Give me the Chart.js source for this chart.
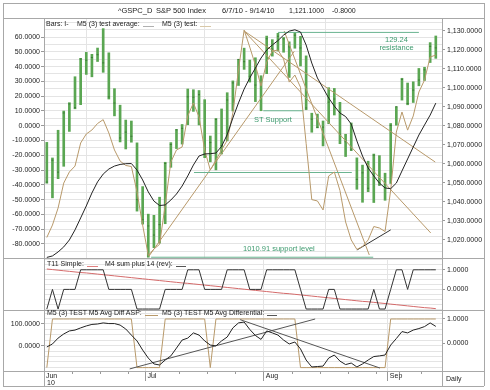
<!DOCTYPE html>
<html><head><meta charset="utf-8">
<script src="https://cdn.jsdelivr.net/npm/chart.js@4.4.1/dist/chart.umd.min.js"></script>
<style>
html,body{margin:0;padding:0;background:#fff;}
#wrap{position:relative;width:490px;height:390px;overflow:hidden;font-family:"Liberation Sans",Arial,Helvetica,sans-serif;}
canvas{position:absolute;left:0;top:0;}
.t{position:absolute;font-size:7px;line-height:8px;color:#222;white-space:nowrap;}
.g{color:#3d9a6e;font-size:7.5px;}
.h{position:absolute;height:0;border-top:1px solid #a8a8a8;}
.v{position:absolute;width:0;border-left:1px solid #a8a8a8;}
.sw{display:inline-block;height:0;vertical-align:bottom;margin-left:3px;margin-bottom:1px;}
</style></head>
<body><div id="wrap">
<canvas id="c1" width="490" height="390"></canvas>
<canvas id="c2" width="490" height="390"></canvas>
<canvas id="c3" width="490" height="390"></canvas>

<div class="v" style="left:3px;top:3px;height:383px"></div>
<div class="v" style="left:484px;top:3px;height:383px"></div>
<div class="h" style="left:3px;top:3px;width:481px"></div>
<div class="h" style="left:3px;top:386px;width:481px"></div>
<div class="h" style="left:3px;top:18px;width:481px"></div>
<div class="h" style="left:3px;top:258px;width:481px"></div>
<div class="h" style="left:3px;top:310px;width:481px"></div>
<div class="h" style="left:3px;top:371px;width:481px"></div>
<div class="v" style="left:44px;top:18px;height:368px"></div>
<div class="v" style="left:442px;top:18px;height:368px"></div>

<div class="t" style="left:118px;top:7px;font-size:7.5px">^GSPC_D</div>
<div class="t" style="left:156px;top:7px;font-size:7.5px">S&amp;P 500 Index</div>
<div class="t" style="left:222px;top:7px;font-size:7.5px">6/7/10 - 9/14/10</div>
<div class="t" style="left:289px;top:7px;font-size:7px">1,121.1000</div>
<div class="t" style="left:332px;top:7px;font-size:7px">-0.8000</div>

<div class="t" style="left:46px;top:20px">Bars: I-</div>
<div class="t" style="left:77px;top:20px">M5 (3) test average:<span class="sw" style="width:11px;border-top:1px solid #b0b0b0"></span></div>
<div class="t" style="left:162px;top:20px">M5 (3) test:<span class="sw" style="width:11px;border-top:1px solid #d8c8a8"></span></div>

<div class="t" style="left:47px;top:260px">T11 Simple:<span class="sw" style="width:11px;border-top:1px solid #e08080"></span></div>
<div class="t" style="left:105px;top:260px">M4 sum plus 14 (rev):<span class="sw" style="width:10px;border-top:1px solid #555"></span></div>

<div class="t" style="left:47px;top:309px">M5 (3) TEST M5 Avg Diff ASP:<span class="sw" style="width:13px;border-top:1px solid #b8996a"></span></div>
<div class="t" style="left:162px;top:309px">M5 (3) TEST M5 Avg Differential:<span class="sw" style="width:10px;border-top:1px solid #555"></span></div>

<div class="t g" style="left:254px;top:116px">ST Support</div>
<div class="t g" style="left:379px;top:36px;width:35px;text-align:center;line-height:7.6px">129.24<br>resistance</div>
<div class="t g" style="left:243px;top:245px">1010.91 support level</div>

<div class="t" style="left:47px;top:379px">10</div>
<div class="t" style="left:446px;top:375px">Daily</div>
</div>
<script>
// ---------- data ----------
const days = ['6/7','6/8','6/9','6/10','6/11','6/14','6/15','6/16','6/17','6/18',
 '6/21','6/22','6/23','6/24','6/25','6/28','6/29','6/30','7/1','7/2',
 '7/6','7/7','7/8','7/9','7/12','7/13','7/14','7/15','7/16','7/19',
 '7/20','7/21','7/22','7/23','7/26','7/27','7/28','7/29','7/30','8/2',
 '8/3','8/4','8/5','8/6','8/9','8/10','8/11','8/12','8/13','8/16',
 '8/17','8/18','8/19','8/20','8/23','8/24','8/25','8/26','8/27','8/30',
 '8/31','9/1','9/2','9/3','9/7','9/8','9/9','9/10','9/13','9/14'];
const highs = [1071.36,1063.15,1077.74,1087.85,1092.25,1105.91,1115.59,1118.74,1117.72,1121.01,
 1131.23,1118.50,1099.64,1090.93,1083.11,1082.60,1071.10,1048.08,1033.58,1032.95,
 1042.50,1060.89,1071.25,1078.16,1080.78,1099.46,1099.08,1098.66,1093.85,1074.70,
 1083.94,1088.96,1097.50,1103.73,1115.01,1120.95,1114.66,1115.90,1106.44,1127.30,
 1125.44,1128.75,1126.56,1124.27,1129.24,1127.16,1116.89,1086.72,1086.25,1082.62,
 1100.14,1099.77,1092.44,1075.63,1081.58,1063.20,1059.38,1061.45,1065.21,1064.40,
 1055.14,1081.30,1090.10,1105.10,1102.60,1103.26,1110.27,1110.88,1123.87,1127.36];
const lows = [1049.86,1042.17,1052.25,1058.77,1077.12,1089.03,1091.21,1107.13,1105.87,1113.93,
 1108.24,1094.18,1085.31,1071.60,1067.89,1071.45,1035.18,1028.33,1010.91,1015.93,
 1018.35,1028.54,1058.24,1068.10,1070.45,1080.65,1087.68,1080.53,1063.32,1061.11,
 1056.88,1065.25,1072.14,1087.88,1101.30,1109.78,1103.11,1092.82,1088.01,1107.53,
 1116.76,1119.46,1118.81,1105.53,1120.91,1111.58,1088.55,1076.69,1079.00,1069.49,
 1081.16,1085.76,1070.66,1063.91,1067.08,1046.68,1039.83,1045.40,1039.70,1048.79,
 1040.88,1049.72,1080.39,1093.61,1091.15,1092.36,1101.15,1103.92,1113.38,1115.58];
const closes = [1050.47,1062.00,1055.69,1086.84,1091.60,1089.63,1115.23,1114.61,1116.04,1117.51,
 1113.20,1095.31,1092.04,1073.69,1076.76,1074.57,1041.24,1030.71,1027.37,1022.58,
 1028.06,1060.27,1070.25,1077.96,1078.75,1095.34,1095.17,1096.48,1064.88,1071.25,
 1083.48,1069.59,1093.67,1102.66,1115.01,1113.84,1106.13,1101.53,1101.60,1125.86,
 1120.46,1127.24,1125.81,1121.64,1127.79,1121.06,1089.47,1083.61,1079.25,1079.38,
 1092.54,1094.16,1075.63,1071.69,1067.36,1051.87,1055.33,1047.22,1064.59,1048.92,
 1049.33,1080.29,1090.10,1104.51,1091.84,1098.87,1104.18,1109.55,1121.90,1121.10];
// M5 (3) test (tan, left axis)
const m5Test = [-75.6,-67.2,-55.7,-38.8,-31.3,-27.3,-11.7,-5.6,-2.9,1.5,
 4.1,-4.9,-16.4,-23.9,-26.9,-27.6,-44.8,-67.2,-87.8,-83.4,
 -80.3,-53.6,-24.6,-16.4,-14.4,6.6,15.4,5.9,-16.4,-30.0,
 -23.2,-16.4,-9.9,8.6,37.7,64.7,53.2,41.0,26.8,43.0,
 50.5,51.2,45.1,29.5,34.3,26.0,-12.0,-50.0,-50.9,-57.0,
 -34.0,-31.3,-43.9,-65.1,-77.3,-83.7,-81.7,-77.3,-68.2,-69.2,
 -71.6,-43.5,-4.3,9.3,-3.0,6.6,22.8,30.9,46.5,47.8];
// M5 (3) test average (black, left axis)
const m5Avg = [-89.1,-88.1,-85.4,-82.0,-77.3,-70.5,-62.4,-54.3,-45.5,-38.0,
 -32.7,-29.3,-27.3,-26.2,-25.7,-25.6,-30.0,-36.7,-44.8,-51.0,
 -54.0,-53.6,-50.3,-46.2,-40.8,-34.0,-26.6,-20.5,-19.1,-18.9,
 -18.5,-14.0,-6.0,5.2,15.4,24.8,32.3,39.0,45.8,51.2,
 54.6,57.6,61.3,64.0,64.9,63.4,54.6,42.4,32.3,25.5,
 18.7,13.3,8.6,6.2,1.1,-10.3,-20.5,-28.6,-34.0,-38.8,
 -42.1,-42.6,-38.8,-30.6,-22.5,-14.4,-6.3,0.5,7.2,15.3];
// T11 Simple (red) and M4 sum plus 14 (rev) (black steps)
const t11 = [1.04,1.01,0.98,0.95,0.92,0.89,0.86,0.84,0.81,0.78,
 0.75,0.72,0.69,0.66,0.63,0.60,0.57,0.54,0.51,0.48,
 0.45,0.42,0.39,0.36,0.33,0.31,0.28,0.25,0.22,0.19,
 0.16,0.13,0.10,0.07,0.04,0.01,-0.02,-0.05,-0.08,-0.11,
 -0.14,-0.17,-0.20,-0.22,-0.25,-0.28,-0.31,-0.34,-0.37,-0.40,
 -0.43,-0.46,-0.49,-0.52,-0.55,-0.58,-0.61,-0.63,-0.66,-0.69,
 -0.72,-0.75,-0.78,-0.81,-0.84,-0.87,-0.90,-0.93,-0.95,-0.98];
const m4 = [-1,0,-1,0,0,0,1,1,1,1,
 1,0,0,0,0,0,-1,-1,-1,-1,
 -1,0,0,0,0,1,1,1,0,0,
 0,0,1,1,1,1,0,0,0,1,
 1,1,1,1,1,0,-1,-1,-1,-1,
 0,0,-1,-1,-1,-1,-1,-1,0,-1,
 -1,0,1,1,0,1,1,1,1,1];
// M5 (3) TEST M5 Avg Diff ASP (tan steps, right axis) and Avg Differential (black, left axis)
const diffAsp = [-1,1,1,1,1,1,1,1,1,1,
 1,1,1,1,1,1,-1,-1,-1,-1,
 -1,1,1,1,1,1,1,1,1,-1,
 1,1,1,1,1,1,1,1,1,1,
 1,1,1,1,1,-1,-1,-1,-1,-1,
 -1,-1,-1,-1,-1,-1,-1,-1,-1,-1,
 -1,1,1,1,1,1,1,1,1,1];
const diffAvg = [-6,8,35,54,68,72,82,91,98,100,
 105,102,102,95,77,49,22,-20,-57,-84,
 -89,-66,-47,-11,26,35,59,49,22,3,
 -1,22,40,82,105,109,75,47,29,68,
 59,49,26,8,17,-15,-66,-98,-96,-94,
 -57,-43,-71,-87,-80,-98,-84,-66,-50,-47,
 -43,3,33,65,59,72,79,88,105,89];
// hand-drawn study lines: [x0,y0,x1,y1] in (trading-day index, value)
const priceTrendLines = [
 [18.1,1011.4,43.9,1119.3],
 [35.0,1130.0,68.9,1061.0],
 [35.0,1130.0,68.1,1023.7],
 [42.1,1130.0,57.2,1012.1]];
const lowTrendLine = [55.0,1014.7,61.0,1025.3];
const greenLevels = [[41.0,66.0,1129.24],[38.4,45.5,1088.0],[26.1,54.1,1055.5],[18.5,57.9,1010.91]];
const diffTrendLines = [[14.7,-107,47.6,123],[34.3,120,59.1,-103]];
const monthLabels = ['Jun','Jul','Aug','Sep'];
const monthStart = [0,18,39,61];
const weekStart = [5,10,15,19,24,29,34,44,49,54,59,63,67];
const mainLeftTicks = [60,50,40,30,20,10,0,-10,-20,-30,-40,-50,-60,-70,-80];
const mainRightTicks = [1130,1120,1110,1100,1090,1080,1070,1060,1050,1040,1030,1020];
const p2Ticks = [1,0];
const p3LeftTicks = [100,0];
const p3RightTicks = [1,0];

// ---------- styling ----------
const TAN = '#b8996a', BLK = '#222', GRN = '#5aa652', LGRN = '#6ab490', GRID = '#e4e4e4', AX = '#999';
const FONT = {family:'"Liberation Sans", Arial, sans-serif', size:7};
const X_MIN = -0.5, X_MAX = 70.1;
Chart.defaults.font = FONT;
Chart.defaults.color = '#222';
Chart.defaults.animation = false;
const base = {responsive:false, animation:false, events:[],
  plugins:{legend:{display:false}, tooltip:{enabled:false}}};

function hiddenX(){
  return {type:'linear', min:X_MIN, max:X_MAX, offset:false,
    afterBuildTicks(s){ s.ticks = monthStart.slice(1).map(i=>({value:i-0.5})); },
    ticks:{display:false}, grid:{drawTicks:false, color:GRID}, border:{display:false},
    afterFit(s){ s.height=0; s.paddingLeft=0; s.paddingRight=0; }};
}
function fixW(w){ return function(s){ s.width=w; s.paddingTop=0; s.paddingBottom=0; }; }
function gridTicks(lo, hi, step){ return function(s){ const t=[]; for(let v=lo; v<=hi+1e-9; v+=step) t.push({value:Math.round(v*1000)/1000}); s.ticks=t; }; }
const seg = (a,color,axis,w) => ({type:'line', yAxisID:axis, data:[{x:a[0],y:a[1]},{x:a[2],y:a[3]}],
  borderColor:color, borderWidth:w||1, pointRadius:0, order:1});
const pts = arr => arr.map((v,i)=>({x:i,y:v}));

// ---------- main panel ----------
new Chart(document.getElementById('c1'), {
  type:'line',
  data:{datasets:[
    {type:'bar', yAxisID:'yR', data:highs.map((h,i)=>({x:i,y:[lows[i],h]})), backgroundColor:GRN,
     barThickness:2, borderWidth:0, order:6},
    {type:'line', yAxisID:'yR', data:pts(closes), showLine:false, pointStyle:'line', pointRadius:1,
     pointBorderWidth:1, pointBorderColor:'#3d7a38', pointBackgroundColor:'#3d7a38', order:5},
    ...greenLevels.map(g=>seg([g[0],g[2],g[1],g[2]], LGRN, 'yR')),
    ...priceTrendLines.map(a=>seg(a, TAN, 'yR')),
    seg(lowTrendLine, '#333', 'yR'),
    {type:'line', yAxisID:'yL', data:pts(m5Avg), borderColor:BLK, borderWidth:1, pointRadius:0, order:0},
    {type:'line', yAxisID:'yL', data:pts(m5Test), borderColor:TAN, borderWidth:1, pointRadius:0, order:0}
  ]},
  options:{...base,
    layout:{padding:{top:19, bottom:132, left:0, right:0}},
    scales:{
      x: hiddenX(),
      yL:{type:'linear', position:'left', min:-89.5, max:72.2,
        afterBuildTicks: gridTicks(-85,70,5), afterFit: fixW(44),
        ticks:{autoSkip:false, padding:1, callback:v=> mainLeftTicks.includes(v)? v.toFixed(4):''},
        grid:{color:GRID, tickLength:3, tickColor:c=> mainLeftTicks.includes(c.tick&&c.tick.value)? AX:'rgba(0,0,0,0)'},
        border:{display:false}},
      yR:{type:'linear', position:'right', min:1010.5, max:1136.3,
        afterBuildTicks(s){ s.ticks = mainRightTicks.map(v=>({value:v})); }, afterFit: fixW(48),
        ticks:{autoSkip:false, padding:2, callback:v=> v.toLocaleString('en-US',{minimumFractionDigits:4, maximumFractionDigits:4})},
        grid:{drawOnChartArea:false, tickLength:3, tickColor:AX}, border:{display:false}}
    }}
});

// ---------- panel 2 ----------
new Chart(document.getElementById('c2'), {
  type:'line',
  data:{datasets:[
    {yAxisID:'y', data:pts(t11), borderColor:'#d46a6a', borderWidth:1, pointRadius:0, order:1},
    {yAxisID:'y', data:pts(m4), borderColor:'#333', borderWidth:1, pointRadius:0, order:0}
  ]},
  options:{...base,
    layout:{padding:{top:259, bottom:80, left:44, right:0}},
    scales:{
      x: hiddenX(),
      y:{type:'linear', position:'right', min:-1.05, max:1.55,
        afterBuildTicks: gridTicks(-1,1.5,0.25), afterFit: fixW(48),
        ticks:{autoSkip:false, padding:2, callback:v=> p2Ticks.includes(v)? v.toFixed(4):''},
        grid:{color:GRID, tickLength:3, tickColor:c=> p2Ticks.includes(c.tick&&c.tick.value)? AX:'rgba(0,0,0,0)'},
        border:{display:false}}
    }}
});

// ---------- panel 3 ----------
const allX = monthStart.concat(weekStart).sort((a,b)=>a-b);
new Chart(document.getElementById('c3'), {
  type:'line',
  data:{datasets:[
    ...diffTrendLines.map(a=>seg(a, '#555', 'yL')),
    {yAxisID:'yR', data:pts(diffAsp), borderColor:TAN, borderWidth:1, pointRadius:0, order:1},
    {yAxisID:'yL', data:pts(diffAvg), borderColor:BLK, borderWidth:1, pointRadius:0, order:0}
  ]},
  options:{...base,
    layout:{padding:{top:310, bottom:9, left:0, right:0}},
    scales:{
      x:{type:'linear', min:X_MIN, max:X_MAX, offset:false, position:'bottom',
        afterBuildTicks(s){ s.ticks = allX.map(i=>({value:i-0.5})); },
        afterFit(s){ s.height=10; s.paddingLeft=0; s.paddingRight=0; },
        ticks:{autoSkip:false, maxRotation:0, align:'start', padding:-9,
          callback:(v)=>{ const k = monthStart.indexOf(Math.round(v+0.5)); return k>=0 ? ' '+monthLabels[k] : ''; }},
        grid:{drawTicks:true, tickLength:10,
          color:c=> (c.tick && monthStart.includes(Math.round(c.tick.value+0.5))) ? GRID : 'rgba(0,0,0,0)',
          tickColor:AX,
          tickBorderDash:c=> (c.tick && monthStart.includes(Math.round(c.tick.value+0.5))) ? [] : [3,20]},
        border:{display:false}},
      yL:{type:'linear', position:'left', min:-116.6, max:164.5,
        afterBuildTicks: gridTicks(-100,150,25), afterFit: fixW(44),
        ticks:{autoSkip:false, padding:1, callback:v=> p3LeftTicks.includes(v)? v.toFixed(4):''},
        grid:{color:GRID, tickLength:3, tickColor:c=> p3LeftTicks.includes(c.tick&&c.tick.value)? AX:'rgba(0,0,0,0)'},
        border:{display:false}},
      yR:{type:'linear', position:'right', min:-1.14, max:1.37,
        afterBuildTicks(s){ s.ticks = p3RightTicks.map(v=>({value:v})); }, afterFit: fixW(48),
        ticks:{autoSkip:false, padding:2, callback:v=> v.toFixed(4)},
        grid:{drawOnChartArea:false, tickLength:3, tickColor:AX}, border:{display:false}}
    }}
});
</script>
</body></html>
